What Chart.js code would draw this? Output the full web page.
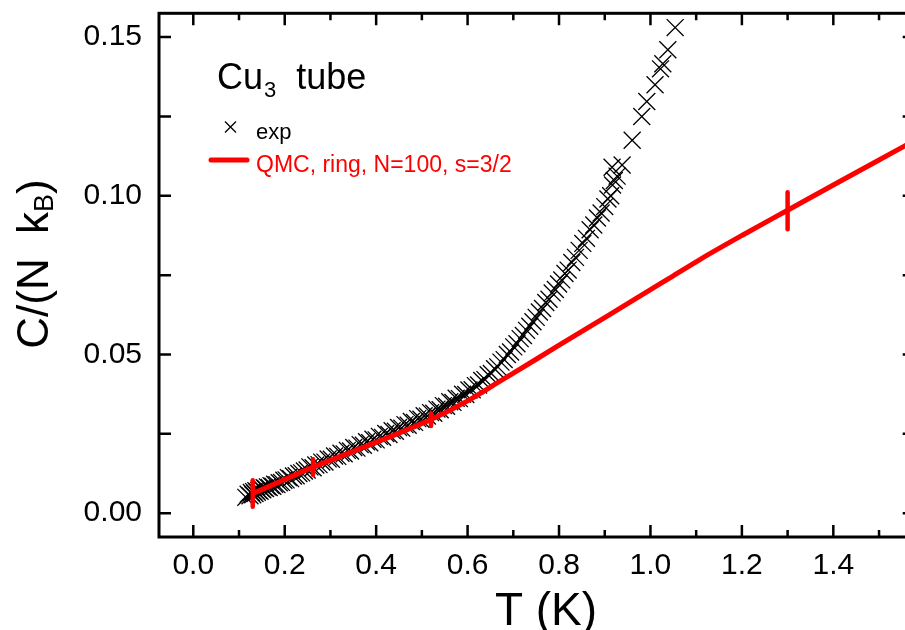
<!DOCTYPE html>
<html>
<head>
<meta charset="utf-8">
<script src="https://cdn.jsdelivr.net/npm/chart.js@4.4.1/dist/chart.umd.min.js"></script>
<style>
  html, body { margin: 0; padding: 0; background: #fff; overflow: hidden; }
  canvas { display: block; }
</style>
</head>
<body>
<canvas id="heatChart" width="928" height="630" style="width:928px;height:630px"></canvas>
<script>
// --- 1. DATOS ---
const expT = [
  0.115, 0.120, 0.124, 0.127, 0.130, 0.132, 0.135, 0.137, 0.140, 0.143, 0.146, 0.149,
  0.152, 0.155, 0.158, 0.162, 0.166, 0.170, 0.174, 0.178, 0.183, 0.188, 0.193, 0.198,
  0.203, 0.208, 0.213, 0.219, 0.225, 0.231, 0.237, 0.243, 0.249, 0.255, 0.262, 0.268,
  0.275, 0.281, 0.288, 0.295, 0.302, 0.309, 0.316, 0.323, 0.330, 0.337, 0.344, 0.351,
  0.358, 0.365, 0.372, 0.379, 0.386, 0.393, 0.400, 0.407, 0.414, 0.421, 0.428, 0.435,
  0.442, 0.449, 0.456, 0.463, 0.470, 0.477, 0.484, 0.491, 0.498, 0.505, 0.512, 0.519,
  0.526, 0.533, 0.540, 0.547, 0.554, 0.561, 0.568, 0.575, 0.582, 0.589, 0.596, 0.603,
  0.610, 0.617, 0.624, 0.631, 0.638, 0.645, 0.652, 0.659, 0.666, 0.673, 0.680, 0.687,
  0.694, 0.701, 0.708, 0.715, 0.722, 0.729, 0.736, 0.743, 0.750, 0.757, 0.764, 0.771,
  0.778, 0.785, 0.792, 0.799, 0.806, 0.813, 0.820, 0.828, 0.836, 0.844, 0.852, 0.860,
  0.868, 0.876, 0.884, 0.892, 0.900, 0.907, 0.913, 0.917, 0.921, 0.927, 0.916, 0.938,
  0.960, 0.981, 0.992, 1.010, 1.022, 1.027, 1.038, 1.054
];
const expC = [
  0.0050, 0.0060, 0.0055, 0.0065, 0.0058, 0.0068, 0.0062, 0.0071, 0.0066, 0.0072, 0.0069, 0.0077,
  0.0074, 0.0080, 0.0078, 0.0083, 0.0081, 0.0087, 0.0085, 0.0091, 0.0090, 0.0096, 0.0097, 0.0104,
  0.0105, 0.0112, 0.0109, 0.0117, 0.0118, 0.0125, 0.0127, 0.0133, 0.0136, 0.0146, 0.0143, 0.0152,
  0.0153, 0.0161, 0.0161, 0.0171, 0.0170, 0.0180, 0.0179, 0.0189, 0.0187, 0.0198, 0.0196, 0.0207,
  0.0205, 0.0216, 0.0214, 0.0225, 0.0222, 0.0233, 0.0231, 0.0242, 0.0239, 0.0251, 0.0248, 0.0260,
  0.0258, 0.0270, 0.0268, 0.0279, 0.0277, 0.0289, 0.0286, 0.0298, 0.0296, 0.0307, 0.0306, 0.0317,
  0.0315, 0.0328, 0.0326, 0.0339, 0.0337, 0.0351, 0.0349, 0.0362, 0.0361, 0.0375, 0.0374, 0.0388,
  0.0389, 0.0402, 0.0404, 0.0418, 0.0421, 0.0436, 0.0440, 0.0455, 0.0461, 0.0476, 0.0484, 0.0500,
  0.0508, 0.0524, 0.0534, 0.0550, 0.0560, 0.0576, 0.0589, 0.0603, 0.0617, 0.0634, 0.0645, 0.0664,
  0.0674, 0.0694, 0.0705, 0.0722, 0.0735, 0.0755, 0.0766, 0.0790, 0.0806, 0.0828, 0.0850, 0.0866,
  0.0893, 0.0908, 0.0930, 0.0946, 0.0966, 0.0990, 0.1000, 0.1034, 0.1048, 0.1062, 0.1090, 0.1097,
  0.1175, 0.1250, 0.1297, 0.1350, 0.1400, 0.1416, 0.1460, 0.1530
];

// curva QMC (anillo, N=100, s=3/2)
const qmcT = [0.13, 0.20, 0.262, 0.35, 0.42, 0.52, 0.60, 0.671, 0.75, 0.85, 0.9625, 1.05, 1.109, 1.20, 1.298, 1.40, 1.50, 1.58];
const qmcC = [0.0062, 0.0106, 0.0145, 0.0195, 0.0235, 0.0295, 0.0354, 0.0416, 0.0485, 0.0573, 0.0671, 0.0748, 0.0800, 0.0875, 0.0953, 0.1034, 0.1113, 0.1176];

// barras de error de la QMC
const errT = [0.13, 0.262, 0.52, 1.30];
const errC = [0.0062, 0.0145, 0.0295, 0.0953];
const errD = [0.0042, 0.0025, 0.0020, 0.0058];

// ejes
const xTicks = [0.0, 0.2, 0.4, 0.6, 0.8, 1.0, 1.2, 1.4];
const xTickLabels = ['0.0', '0.2', '0.4', '0.6', '0.8', '1.0', '1.2', '1.4'];
const xMinorTicks = [0.1, 0.3, 0.5, 0.7, 0.9, 1.1, 1.3, 1.5];
const yTicks = [0.00, 0.05, 0.10, 0.15];
const yTickLabels = ['0.00', '0.05', '0.10', '0.15'];
const yMinorTicks = [0.025, 0.075, 0.125];

const FONT = '"Liberation Sans", Arial, Helvetica, sans-serif';
const RED = '#ff0000';

// ===========================================
// --- 2. MARCO, TICKS HACIA DENTRO Y TEXTOS ---
// ===========================================
const marcoPlugin = {
    id: 'marco',
    afterDatasetsDraw(chart) {
        const { ctx, scales: { x, y } } = chart;
        ctx.save();
        ctx.strokeStyle = RED;
        ctx.lineWidth = 4.5;
        ctx.lineCap = 'round';
        errT.forEach((t, i) => {
            const px = x.getPixelForValue(t);
            ctx.beginPath();
            ctx.moveTo(px, y.getPixelForValue(errC[i] - errD[i]));
            ctx.lineTo(px, y.getPixelForValue(errC[i] + errD[i]));
            ctx.stroke();
        });
        ctx.restore();
    },
    afterDraw(chart) {
        const { ctx, chartArea: a, scales: { x, y } } = chart;
        ctx.save();
        ctx.strokeStyle = '#000';
        ctx.lineCap = 'butt';

        // marco
        ctx.lineWidth = 3;
        ctx.strokeRect(a.left, a.top, a.right - a.left, a.bottom - a.top);

        // ticks
        ctx.lineWidth = 2.5;
        ctx.beginPath();
        const tickX = (v, len) => {
            const px = x.getPixelForValue(v);
            ctx.moveTo(px, a.bottom); ctx.lineTo(px, a.bottom - len);
            ctx.moveTo(px, a.top); ctx.lineTo(px, a.top + len);
        };
        const tickY = (v, len) => {
            const py = y.getPixelForValue(v);
            ctx.moveTo(a.left, py); ctx.lineTo(a.left + len, py);
            ctx.moveTo(a.right, py); ctx.lineTo(a.right - len, py);
        };
        xTicks.forEach(v => tickX(v, 12));
        xMinorTicks.forEach(v => tickX(v, 7));
        yTicks.forEach(v => tickY(v, 12));
        yMinorTicks.forEach(v => tickY(v, 12));
        ctx.stroke();

        // titulo eje X
        ctx.fillStyle = '#000';
        ctx.textAlign = 'center';
        ctx.textBaseline = 'alphabetic';
        ctx.font = `46px ${FONT}`;
        ctx.fillText('T (K)', 546, 625);

        // titulo eje Y (con subindice)
        ctx.save();
        ctx.translate(48, 264);
        ctx.rotate(-Math.PI / 2);
        ctx.textAlign = 'left';
        const partes = [
            { t: 'C/(N  k', f: `44px ${FONT}`, dy: 0 },
            { t: 'B', f: `27px ${FONT}`, dy: 5 },
            { t: ')', f: `44px ${FONT}`, dy: 0 }
        ];
        let total = 0;
        partes.forEach(p => { ctx.font = p.f; p.w = ctx.measureText(p.t).width; total += p.w; });
        let cx = -total / 2;
        partes.forEach(p => { ctx.font = p.f; ctx.fillText(p.t, cx, p.dy); cx += p.w; });
        ctx.restore();

        // etiqueta "Cu3 tube"
        ctx.textAlign = 'left';
        ctx.font = `36px ${FONT}`;
        ctx.fillText('Cu', 217, 89);
        let w = ctx.measureText('Cu').width;
        ctx.font = `22px ${FONT}`;
        ctx.fillText('3', 217 + w + 1, 97);
        w += ctx.measureText('3').width + 1;
        ctx.font = `36px ${FONT}`;
        ctx.fillText('  tube', 217 + w, 89);

        // leyenda
        ctx.lineWidth = 1.3;
        ctx.beginPath();
        ctx.moveTo(225, 121.5); ctx.lineTo(236, 132.5);
        ctx.moveTo(236, 121.5); ctx.lineTo(225, 132.5);
        ctx.stroke();
        ctx.font = `22px ${FONT}`;
        ctx.fillText('exp', 256, 139);

        ctx.strokeStyle = RED;
        ctx.lineWidth = 5;
        ctx.lineCap = 'round';
        ctx.beginPath();
        ctx.moveTo(211, 160); ctx.lineTo(247, 160);
        ctx.stroke();
        ctx.fillStyle = RED;
        ctx.font = `23px ${FONT}`;
        ctx.fillText('QMC, ring, N=100, s=3/2', 256, 172);

        ctx.restore();
    }
};

// ===========================================
// --- 3. GRAFICO ---
// ===========================================
const ctx = document.getElementById('heatChart').getContext('2d');

new Chart(ctx, {
    type: 'scatter',
    data: {
        datasets: [
            {
                label: 'QMC, ring, N=100, s=3/2',
                data: qmcT.map((t, i) => ({ x: t, y: qmcC[i] })),
                showLine: true,
                borderColor: RED,
                borderWidth: 5,
                pointRadius: 0,
                cubicInterpolationMode: 'monotone',
                fill: false
            },
            {
                label: 'exp',
                data: expT.map((t, i) => ({ x: t, y: expC[i] })),
                pointStyle: 'crossRot',
                pointRadius: 12,
                borderColor: '#000',
                borderWidth: 1.3,
                showLine: false
            }
        ]
    },
    options: {
        responsive: false,
        animation: false,
        devicePixelRatio: 1,
        layout: { padding: { top: 9, right: 3, left: 0, bottom: 0 } },
        plugins: {
            legend: { display: false },
            tooltip: { enabled: false }
        },
        scales: {
            x: {
                type: 'linear',
                min: -0.075,
                max: 1.578,
                grid: { display: false, drawTicks: false },
                border: { display: false },
                afterBuildTicks: s => { s.ticks = xTicks.map(v => ({ value: v })); },
                afterFit: s => {
                    s.height = 93;
                    s.paddingLeft = 0; s.paddingRight = 0;
                },
                ticks: {
                    callback: (v, i) => xTickLabels[i],
                    autoSkip: false,
                    maxRotation: 0,
                    padding: 11,
                    color: '#000',
                    font: { family: FONT, size: 30 }
                }
            },
            y: {
                type: 'linear',
                min: -0.0075,
                max: 0.1575,
                grid: { display: false, drawTicks: false },
                border: { display: false },
                afterBuildTicks: s => { s.ticks = yTicks.map(v => ({ value: v })); },
                afterFit: s => {
                    s.width = 159;
                    s.paddingTop = 0; s.paddingBottom = 0;
                },
                ticks: {
                    callback: (v, i) => yTickLabels[i],
                    padding: 17,
                    color: '#000',
                    font: { family: FONT, size: 30 }
                }
            }
        }
    },
    plugins: [marcoPlugin]
});
</script>
</body>
</html>
